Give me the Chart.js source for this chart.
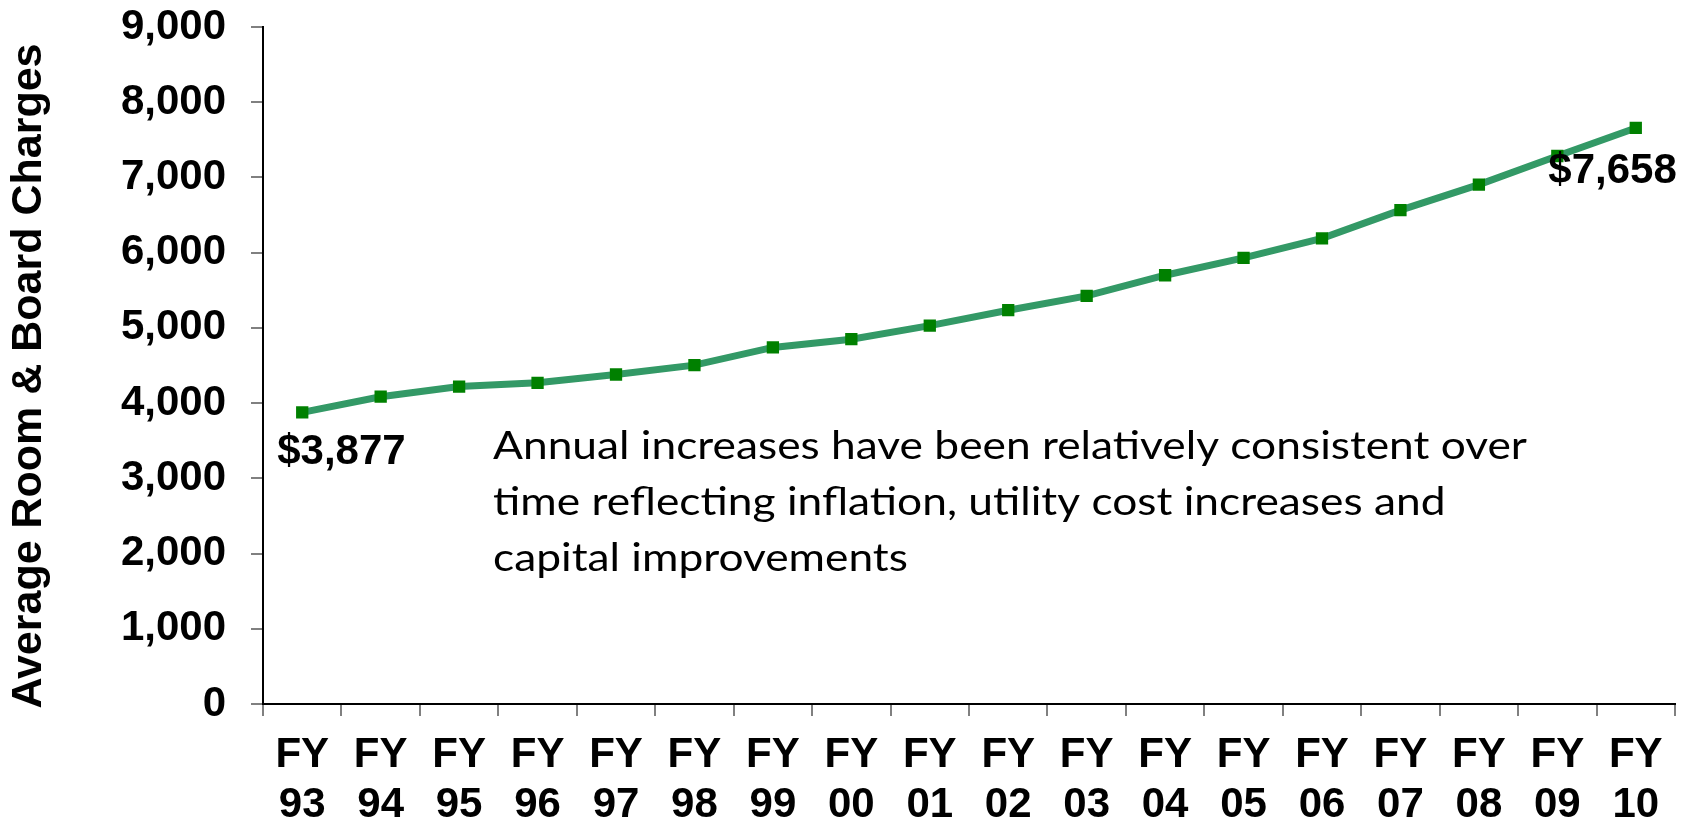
<!DOCTYPE html>
<html>
<head>
<meta charset="utf-8">
<script src="https://cdn.jsdelivr.net/npm/chart.js@4"></script>
<style>
  html, body { margin: 0; padding: 0; background: #ffffff; }
  #wrap { width: 1696px; height: 822px; position: relative; }
</style>
</head>
<body>
<div id="wrap"><canvas id="c" width="1696" height="822"></canvas></div>
<script>
const categories = ['FY 93','FY 94','FY 95','FY 96','FY 97','FY 98','FY 99','FY 00','FY 01','FY 02','FY 03','FY 04','FY 05','FY 06','FY 07','FY 08','FY 09','FY 10'];
const charges = [3877, 4085, 4220, 4270, 4380, 4505, 4740, 4850, 5030, 5235, 5425, 5700, 5930, 6190, 6565, 6905, 7285, 7658];
const yTicks = [0, 1000, 2000, 3000, 4000, 5000, 6000, 7000, 8000, 9000];
const yTitle = 'Average Room & Board Charges';
const firstLabel = '$3,877';
const lastLabel = '$7,658';
const noteLines = [
  'Annual increases have been relatively consistent over',
  'time reflecting inflation, utility cost increases and',
  'capital improvements'
];

const boldFont = { family: "'Liberation Sans', Arial, sans-serif", size: 42, weight: 'bold' };

const annotations = {
  id: 'annotations',
  afterDatasetsDraw(chart) {
    const ctx = chart.ctx;
    const meta = chart.getDatasetMeta(0);
    const p0 = meta.data[0];
    const pN = meta.data[meta.data.length - 1];
    ctx.save();
    ctx.fillStyle = '#000000';

    // y-axis title
    ctx.save();
    ctx.font = "bold 43px 'Liberation Sans', Arial, sans-serif";
    ctx.textAlign = 'center';
    ctx.textBaseline = 'middle';
    ctx.translate(29, 376);
    ctx.rotate(-Math.PI / 2);
    ctx.fillText(yTitle, 0, 0);
    ctx.restore();

    ctx.font = "bold 42px 'Liberation Sans', Arial, sans-serif";
    ctx.textBaseline = 'alphabetic';
    ctx.textAlign = 'left';
    ctx.fillText(firstLabel, p0.x - 25, p0.y + 52);
    ctx.textAlign = 'right';
    ctx.fillText(lastLabel, pN.x + 41, pN.y + 55);

    // note text
    ctx.textAlign = 'left';
    ctx.font = "39px Lato, 'Open Sans', sans-serif";
    const w = ctx.measureText(noteLines[0]).width;
    const sx = 1034 / w;
    const baselines = [459, 515, 571];
    noteLines.forEach((line, i) => {
      ctx.save();
      ctx.translate(493, baselines[i]);
      ctx.scale(sx, 1);
      ctx.fillText(line, 0, 0);
      ctx.restore();
    });
    ctx.restore();
  }
};

new Chart(document.getElementById('c'), {
  type: 'line',
  data: {
    labels: categories.map(c => c.split(' ')),
    datasets: [{
      data: charges,
      borderColor: '#339966',
      borderWidth: 7,
      backgroundColor: '#008000',
      pointBackgroundColor: '#008000',
      pointBorderColor: '#008000',
      pointBorderWidth: 0,
      pointStyle: 'rect',
      pointRadius: 8.7,
      tension: 0,
      fill: false
    }]
  },
  options: {
    responsive: false,
    animation: false,
    devicePixelRatio: 1,
    layout: { padding: { top: 27, right: 21, left: 0, bottom: 0 } },
    plugins: { legend: { display: false }, tooltip: { enabled: false } },
    scales: {
      x: {
        type: 'category',
        offset: true,
        grid: { offset: true, drawOnChartArea: false, drawTicks: true, tickLength: 12, color: '#808080', lineWidth: 2 },
        border: { display: true, color: '#000000', width: 2 },
        ticks: { color: '#000000', font: boldFont, padding: 14, maxRotation: 0, minRotation: 0, autoSkip: false },
        afterFit(scale) { scale.height = 118; }
      },
      y: {
        min: 0,
        max: 9000,
        afterBuildTicks(scale) { scale.ticks = yTicks.map(v => ({ value: v })); },
        grid: { drawOnChartArea: false, drawTicks: true, tickLength: 12, color: '#808080', lineWidth: 2 },
        border: { display: true, color: '#000000', width: 2 },
        ticks: {
          color: '#000000',
          font: boldFont,
          padding: 25,
          callback: v => v.toLocaleString('en-US')
        },
        title: { display: false },
        afterFit(scale) {
          scale.width = 263;
          scale.paddingTop = 0;
          scale.paddingBottom = 0;
        }
      }
    }
  },
  plugins: [annotations]
});
</script>
</body>
</html>
